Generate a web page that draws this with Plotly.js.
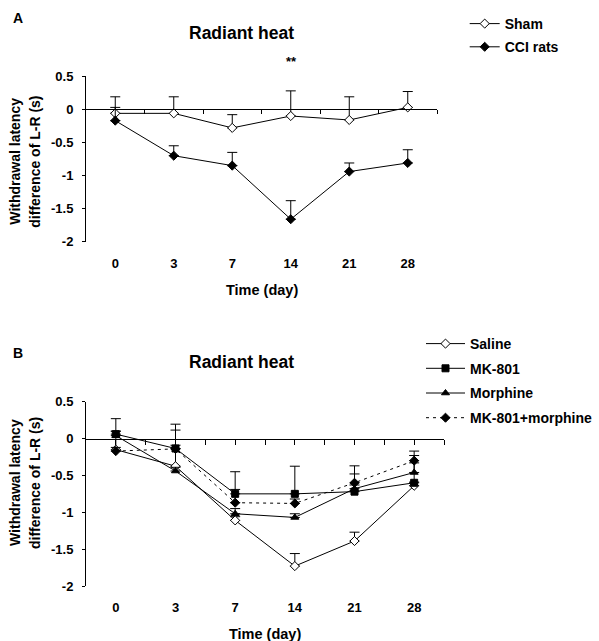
<!DOCTYPE html>
<html>
<head>
<meta charset="utf-8">
<script src="https://cdn.plot.ly/plotly-3.0.1.min.js"></script>
<style>html,body{margin:0;padding:0;background:#fff;}#chart{width:599px;height:641px;}</style>
</head>
<body>
<div id="chart"></div>
<script>
// ---- data ----
const categories = ['0', '3', '7', '14', '21', '28'];
const yTickVals = [0.5, 0, -0.5, -1, -1.5, -2];
const yTickText = ['0.5', '0', '-0.5', '-1', '-1.5', '-2'];

// Panel A
const shamMean = [-0.06, -0.06, -0.28, -0.10, -0.16, 0.03];
const shamErr  = [0.25, 0.25, 0.20, 0.38, 0.35, 0.24];
const cciMean  = [-0.17, -0.70, -0.85, -1.66, -0.94, -0.81];
const cciErr   = [0.20, 0.15, 0.20, 0.28, 0.13, 0.20];

// Panel B
const salineMean = [-0.15, -0.375, -1.11, -1.73, -1.39, -0.64];
const salineErr  = [0.25, 0.49, 0.05, 0.17, 0.12, 0.05];
const mkMean     = [0.06, -0.135, -0.75, -0.75, -0.72, -0.60];
const mkErr      = [0.21, 0.33, 0.30, 0.375, 0.35, 0.37];
const morMean    = [0.04, -0.44, -1.02, -1.07, -0.68, -0.46];
const morErr     = [0.06, 0.05, 0.07, 0.05, 0.05, 0.13];
const mkMorMean  = [-0.17, -0.14, -0.87, -0.88, -0.60, -0.30];
const mkMorErr   = [0.05, 0.05, 0.18, 0.06, 0.12, 0.13];

// ---- styling / layout ----
const FONT = 'Arial, "Liberation Sans", sans-serif';
const W = 599, H = 641;
const px = v => v / W;
const py = v => 1 - v / H;

const domXA = [px(86), px(437)];
const domYA = [py(241.7), py(76.3)];
const domXB = [px(86), px(444)];
const domYB = [py(586), py(401.7)];
const yRange = [-2, 0.5];
const zeroPos = d => d[0] + (0 - yRange[0]) / (yRange[1] - yRange[0]) * (d[1] - d[0]);

function eb(arr) {
  return {type: 'data', symmetric: false, array: arr, arrayminus: arr.map(() => 0),
          color: '#000', thickness: 1, width: 5};
}
function tr(name, y, err, sym, fill, size, dash, xa, ya, leg) {
  return {
    type: 'scatter', mode: 'lines+markers', name: name,
    x: categories, y: y, xaxis: xa, yaxis: ya, legend: leg, legendgroup: name,
    line: {color: '#000', width: 1, dash: dash || 'solid'},
    marker: {symbol: sym, size: size, color: fill, line: {color: '#000', width: 1}},
    error_y: eb(err), hoverinfo: 'x+y'
  };
}

const data = [
  tr('Sham', shamMean, shamErr, 'diamond', '#fff', 7, null, 'x', 'y', 'legend'),
  tr('CCI rats', cciMean, cciErr, 'diamond', '#000', 7, null, 'x', 'y', 'legend'),
  tr('Saline', salineMean, salineErr, 'diamond', '#fff', 7, null, 'x2', 'y2', 'legend2'),
  tr('MK-801', mkMean, mkErr, 'square', '#000', 7, null, 'x2', 'y2', 'legend2'),
  tr('Morphine', morMean, morErr, 'triangle-up', '#000', 7, null, 'x2', 'y2', 'legend2'),
  tr('MK-801+morphine', mkMorMean, mkMorErr, 'diamond', '#000', 7, '3px,4px', 'x2', 'y2', 'legend2'),
  {type: 'scatter', x: [], y: [], xaxis: 'x3', yaxis: 'y', showlegend: false, hoverinfo: 'skip'},
  {type: 'scatter', x: [], y: [], xaxis: 'x4', yaxis: 'y2', showlegend: false, hoverinfo: 'skip'}
];

const tickFont = {family: FONT, size: 13, color: '#000', weight: 700};
function mainX(dom, anchor) {
  return {domain: dom, anchor: anchor, type: 'category', range: [-0.5, 5.5],
          showline: false, showgrid: false, zeroline: false, ticks: '',
          tickfont: tickFont, ticklabelstandoff: 12, fixedrange: true};
}
function yAx(dom, anchor) {
  return {domain: dom, anchor: anchor, range: yRange, showline: true, linecolor: '#000', linewidth: 1,
          showgrid: false, zeroline: false, ticks: 'outside', ticklen: 3, tickcolor: '#000',
          tickvals: yTickVals, ticktext: yTickText, tickfont: tickFont, ticklabelstandoff: 6,
          fixedrange: true};
}
function zeroX(over, pos, tv, len) {
  return {overlaying: over, anchor: 'free', position: pos, range: [-0.5, 5.5], type: 'linear',
          showline: true, linecolor: '#000', linewidth: 1, showgrid: false, zeroline: false,
          ticks: 'outside', ticklen: len, tickcolor: '#000', tickvals: tv, showticklabels: false,
          fixedrange: true};
}
const ticksA = [0.5, 1.5, 2.5, 3.5, 4.5, 5.5];
const ticksB = [0, 0.5, 1, 1.5, 2, 2.5, 3, 3.5, 4, 4.5, 5, 5.5];

const legFont = {family: FONT, size: 14, color: '#000', weight: 700};
function ann(text, x, y, size, extra) {
  return Object.assign({text: text, x: x, y: y, xref: 'paper', yref: 'paper', showarrow: false,
    xanchor: 'center', yanchor: 'middle', font: {family: FONT, size: size, color: '#000', weight: 700}}, extra || {});
}

const layout = {
  width: W, height: H, margin: {l: 0, r: 0, t: 0, b: 0},
  paper_bgcolor: '#fff', plot_bgcolor: 'rgba(0,0,0,0)', showlegend: true,
  font: {family: FONT, color: '#000'},
  xaxis: mainX(domXA, 'y'), yaxis: yAx(domYA, 'x'),
  xaxis2: mainX(domXB, 'y2'), yaxis2: yAx(domYB, 'x2'),
  xaxis3: zeroX('x', zeroPos(domYA), ticksA, 4),
  xaxis4: zeroX('x2', zeroPos(domYB), ticksB, 5),
  legend: {x: px(464.7), y: py(8), xanchor: 'left', yanchor: 'top', font: legFont,
           bgcolor: 'rgba(0,0,0,0)', borderwidth: 0, tracegroupgap: 2, itemwidth: 30},
  legend2: {x: px(421), y: py(328), xanchor: 'left', yanchor: 'top', font: legFont,
           bgcolor: 'rgba(0,0,0,0)', borderwidth: 0, tracegroupgap: 3.5, itemwidth: 39},
  annotations: [
    ann('A', px(18), py(18), 14),
    ann('Radiant heat', px(241.7), py(33.3), 17.5),
    ann('**', px(291), py(61), 13),
    ann('Time (day)', px(261.5), py(290), 14.5),
    ann('Withdrawal latency', px(15), py(161.7), 14, {textangle: -90}),
    ann('difference of L-R (s)', px(35), py(161.7), 14, {textangle: -90}),
    ann('B', px(18), py(353), 14),
    ann('Radiant heat', px(241.7), py(362.3), 17.5),
    ann('Time (day)', px(265), py(634), 14.5),
    ann('Withdrawal latency', px(15), py(483), 14, {textangle: -90}),
    ann('difference of L-R (s)', px(35), py(483), 14, {textangle: -90})
  ]
};

Plotly.newPlot('chart', data, layout, {displayModeBar: false, staticPlot: true});
</script>
</body>
</html>
